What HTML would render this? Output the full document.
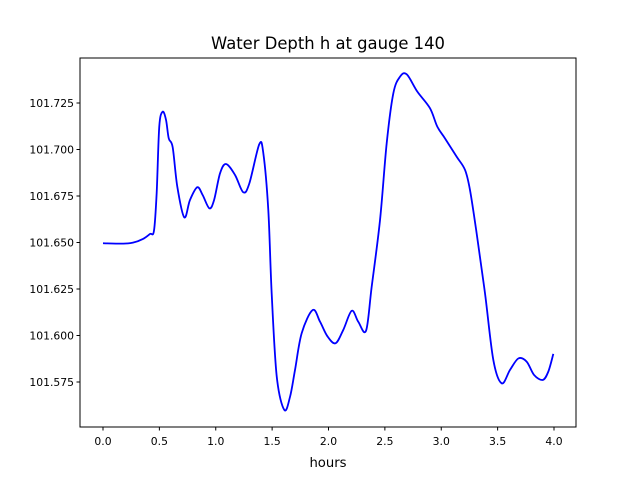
<!DOCTYPE html>
<html><head><meta charset="utf-8"><style>
body{margin:0;background:#fff;}
svg{font-family:"DejaVu Sans","Liberation Sans",sans-serif;}
</style></head><body>
<svg id="chart" width="640" height="480" viewBox="0 0 640 480" xmlns="http://www.w3.org/2000/svg">
<rect width="640" height="480" fill="#fff"/>
<text x="328" y="49" font-size="16.4" text-anchor="middle">Water Depth h at gauge 140</text>
<g id="plot"></g>
<rect x="80" y="58" width="496" height="369" fill="none" stroke="#000" stroke-width="1"/>
<text x="328" y="467" font-size="13.2" text-anchor="middle">hours</text>
</svg>
<script>
const hours=[0,0.18,0.266,0.355,0.417,0.452,0.476,0.499,0.529,0.559,0.583,0.618,0.659,0.721,0.771,0.836,0.884,0.943,0.985,1.038,1.091,1.171,1.244,1.298,1.386,1.422,1.466,1.496,1.541,1.608,1.659,1.703,1.762,1.860,1.925,1.989,2.062,2.131,2.206,2.264,2.333,2.383,2.457,2.516,2.575,2.634,2.694,2.788,2.900,2.965,3.033,3.137,3.211,3.255,3.314,3.388,3.462,3.536,3.610,3.685,3.758,3.823,3.900,3.949,3.994];
const depth=[101.6496,101.6494,101.6499,101.6519,101.6546,101.6563,101.6766,101.7123,101.7203,101.7159,101.7060,101.7012,101.6800,101.6635,101.6728,101.6797,101.6755,101.6684,101.6728,101.6872,101.6922,101.6863,101.6770,101.6818,101.7028,101.6980,101.6675,101.6227,101.5779,101.5600,101.5671,101.5815,101.6012,101.6137,101.6074,101.5997,101.5958,101.6030,101.6133,101.6074,101.6026,101.6262,101.6621,101.7033,101.7302,101.7391,101.7404,101.7311,101.7222,101.7123,101.7060,101.6961,101.6890,101.6782,101.6549,101.6227,101.5868,101.5743,101.5815,101.5877,101.5859,101.5788,101.5761,101.5805,101.5901];
const xTicks=[0,0.5,1,1.5,2,2.5,3,3.5,4];
const xTickLabels=["0.0","0.5","1.0","1.5","2.0","2.5","3.0","3.5","4.0"];
const yTicks=[101.575,101.6,101.625,101.65,101.675,101.7,101.725];
const yTickLabels=["101.575","101.600","101.625","101.650","101.675","101.700","101.725"];
const X=h=>103+h*112.75;
const Y=v=>242.5-(v-101.65)*1860;
const NS="http://www.w3.org/2000/svg";
const g=document.getElementById('plot');
function mk(t,a){const e=document.createElementNS(NS,t);for(const k in a)e.setAttribute(k,a[k]);return e;}
xTicks.forEach((t,i)=>{
  const l=mk('line',{x1:X(t),x2:X(t),y1:427,y2:430.5,stroke:'#000'});
  
  
  g.appendChild(l);
  const tx=mk('text',{x:X(t),y:445,'font-size':10.8,'text-anchor':'middle'});
  
  
  tx.textContent=xTickLabels[i];g.appendChild(tx);
});
yTicks.forEach((t,i)=>{
  const l=mk('line',{x1:76.5,x2:80,y1:Y(t),y2:Y(t),stroke:'#000'});
  
  
  g.appendChild(l);
  const tx=mk('text',{x:74,y:Y(t)+4,'font-size':10.8,'text-anchor':'end'});
  
  
  tx.textContent=yTickLabels[i];g.appendChild(tx);
});
const pts=hours.map((h,i)=>[X(h),Y(depth[i])]);
let d='M'+pts[0][0]+','+pts[0][1];
for(let i=0;i<pts.length-1;i++){
  const p0=pts[Math.max(0,i-1)],p1=pts[i],p2=pts[i+1],p3=pts[Math.min(pts.length-1,i+2)];
  const c1=[p1[0]+(p2[0]-p0[0])/6,p1[1]+(p2[1]-p0[1])/6];
  const c2=[p2[0]-(p3[0]-p1[0])/6,p2[1]-(p3[1]-p1[1])/6];
  d+=' C'+c1+' '+c2+' '+p2;
}
const path=mk('path',{d:d,fill:'none',stroke:'#0000ff','stroke-width':1.8});


g.appendChild(path);
</script>
</body></html>
